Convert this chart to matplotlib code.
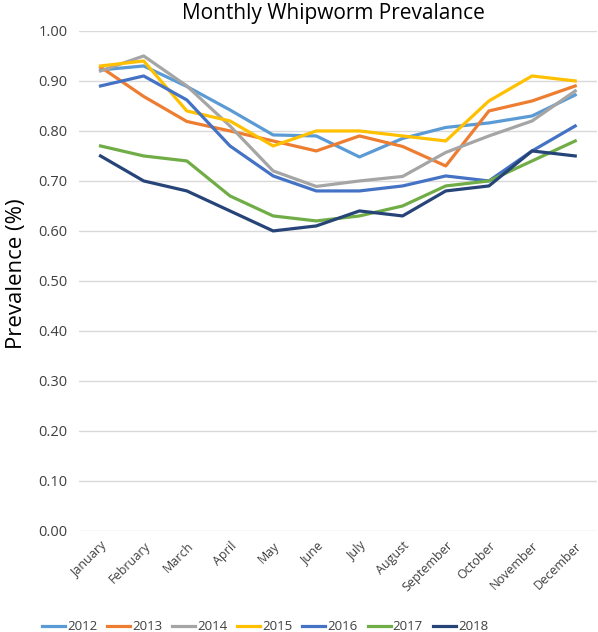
import matplotlib
matplotlib.use("Agg")
import matplotlib.pyplot as plt

months = ["January", "February", "March", "April", "May", "June", "July",
          "August", "September", "October", "November", "December"]
years = ["2012", "2013", "2014", "2015", "2016", "2017", "2018"]
colors = ["#5B9BD5", "#ED7D31", "#A5A5A5", "#FFC000", "#4472C4", "#70AD47", "#264478"]

p2012 = [0.922, 0.93, 0.889, 0.842, 0.792, 0.79, 0.748, 0.785, 0.807, 0.816, 0.83, 0.872]
p2013 = [0.928, 0.869, 0.819, 0.80, 0.78, 0.76, 0.79, 0.769, 0.73, 0.84, 0.86, 0.89]
p2014 = [0.92, 0.95, 0.89, 0.81, 0.72, 0.689, 0.70, 0.709, 0.757, 0.79, 0.82, 0.88]
p2015 = [0.93, 0.94, 0.84, 0.82, 0.77, 0.80, 0.80, 0.79, 0.78, 0.86, 0.91, 0.90]
p2016 = [0.89, 0.91, 0.862, 0.77, 0.71, 0.68, 0.68, 0.69, 0.71, 0.70, 0.76, 0.81]
p2017 = [0.77, 0.75, 0.74, 0.67, 0.63, 0.62, 0.63, 0.65, 0.69, 0.70, 0.74, 0.78]
p2018 = [0.75, 0.70, 0.68, 0.64, 0.60, 0.61, 0.64, 0.63, 0.68, 0.69, 0.76, 0.75]
series = [p2012, p2013, p2014, p2015, p2016, p2017, p2018]

plt.rcParams["font.family"] = ["Open Sans", "DejaVu Sans"]

fig = plt.figure(figsize=(5.98, 6.32), dpi=100)
ax = fig.add_axes([0.132, 0.160, 0.866, 0.791])

x = range(len(months))
for yr, vals, c in zip(years, series, colors):
    ax.plot(x, vals, color=c, lw=2.3, label=yr)

ax.set_xlim(-0.5, 11.5)
ax.set_ylim(0, 1.0)
ax.set_yticks([i / 10 for i in range(11)])
ax.set_yticklabels([f"{i / 10:.2f}" for i in range(11)], fontsize=10.5, color="#404040")
ax.set_xticks(list(x))
ax.set_xticklabels(months, rotation=45, ha="right", rotation_mode="anchor",
                   fontsize=9, color="#404040")
ax.tick_params(length=0, pad=8)
ax.tick_params(axis="x", pad=6)
ax.grid(axis="y", color="#D9D9D9", lw=1)
ax.set_axisbelow(True)
for s in ax.spines.values():
    s.set_visible(False)

ax.set_ylabel("Prevalence (%)", fontsize=16)
ax.yaxis.set_label_coords(-0.101, 0.515)
fig.text(0.557, 0.979, "Monthly Whipworm Prevalance", ha="center", va="center", fontsize=15)

fig.legend(loc="center", bbox_to_anchor=(0.443, 0.008), ncol=7, frameon=False,
           fontsize=9.5, handlelength=1.75, handletextpad=0.15, columnspacing=0.75,
           labelcolor="#404040")

fig.savefig("out.png", dpi=100)
